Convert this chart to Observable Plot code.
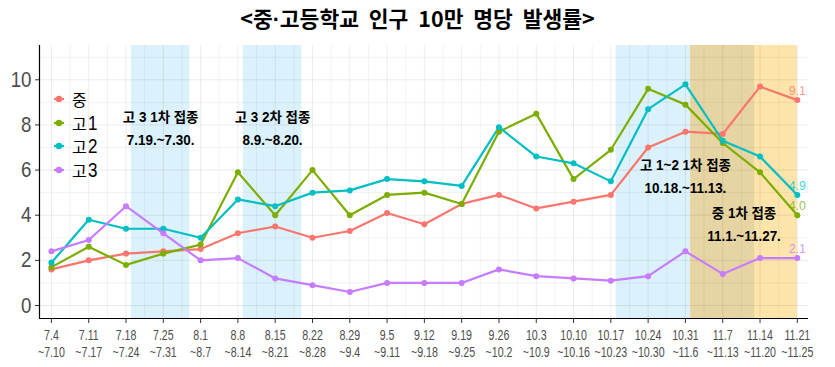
<!DOCTYPE html>
<html><head><meta charset="utf-8">
<script src="https://cdn.jsdelivr.net/npm/d3@7"></script>
<script src="https://cdn.jsdelivr.net/npm/@observablehq/plot@0.6"></script>
<style>
body{margin:0;background:#fff;}
#wrap{position:relative;width:835px;height:367px;overflow:hidden;}
#title{height:40px;line-height:36px;text-align:center;font-weight:bold;font-size:21.5px;font-family:"Noto Sans CJK KR",sans-serif;color:#000;word-spacing:5px;}
#title .dot{font-family:"Liberation Sans",sans-serif;}
#legend{position:absolute;left:52px;top:87px;color:#000;}
#legend .row{height:23.7px;display:flex;align-items:center;}
#legend .k{font-family:"Noto Sans CJK KR",sans-serif;font-size:16px;line-height:16px;}
#legend .d{font-family:"Liberation Sans",sans-serif;font-size:20px;line-height:20px;display:inline-block;transform:scaleX(0.85);transform-origin:left center;margin-left:1px;}
#legend svg{margin-right:6px;}
</style></head>
<body><div id="wrap"><div id="title">&lt;중<span class="dot">·</span>고등학교 인구 10만 명당 발생률&gt;</div><div id="chart"></div><div id="legend"></div></div>
<script>
// week labels (x categories)
const weekStarts = ["2021-07-04","2021-07-11","2021-07-18","2021-07-25","2021-08-01","2021-08-08","2021-08-15","2021-08-22","2021-08-29","2021-09-05","2021-09-12","2021-09-19","2021-09-26","2021-10-03","2021-10-10","2021-10-17","2021-10-24","2021-10-31","2021-11-07","2021-11-14","2021-11-21"];
const weekLabels = ["7.4\n~7.10","7.11\n~7.17","7.18\n~7.24","7.25\n~7.31","8.1\n~8.7","8.8\n~8.14","8.15\n~8.21","8.22\n~8.28","8.29\n~9.4","9.5\n~9.11","9.12\n~9.18","9.19\n~9.25","9.26\n~10.2","10.3\n~10.9","10.10\n~10.16","10.17\n~10.23","10.24\n~10.30","10.31\n~11.6","11.7\n~11.13","11.14\n~11.20","11.21\n~11.25"];
// series
const seriesNames = ["중","고1","고2","고3"];
const seriesColors = ["#F8766D","#7CAE00","#00BFC4","#C77CFF"];
const midSchool = [1.6,2.0,2.3,2.4,2.5,3.2,3.5,3.0,3.3,4.1,3.6,4.5,4.9,4.3,4.6,4.9,7.0,7.7,7.6,9.7,9.1];
const high1 = [1.7,2.6,1.8,2.3,2.7,5.9,4.0,6.0,4.0,4.9,5.0,4.5,7.7,8.5,5.6,6.9,9.6,8.9,7.2,5.9,4.0];
const high2 = [1.9,3.8,3.4,3.4,3.0,4.7,4.4,5.0,5.1,5.6,5.5,5.3,7.9,6.6,6.3,5.5,8.7,9.8,7.3,6.6,4.9];
const high3 = [2.4,2.9,4.4,3.2,2.0,2.1,1.2,0.9,0.6,1.0,1.0,1.0,1.6,1.3,1.2,1.1,1.3,2.4,1.4,2.1,2.1];
// vaccination periods
const bandStart = ["2021-07-19","2021-08-09","2021-10-18","2021-11-01"];
const bandEnd   = ["2021-07-30","2021-08-20","2021-11-13","2021-11-27"];
const bandKind  = ["blue","blue","blue","orange"];
const bandText  = ["고 3 1차 접종\n7.19.~7.30.","고 3 2차 접종\n8.9.~8.20.","고 1~2 1차 접종\n10.18.~11.13.","중 1차 접종\n11.1.~11.27."];
const bandTextY = [7.95,7.95,5.8,3.7];
// y ticks
const yTicks = [0,2,4,6,8,10];

const values = [midSchool, high1, high2, high3];
const data = [];
values.forEach((arr, s) => arr.forEach((v, i) => data.push({i, v, s: seriesNames[s]})));
const n = weekStarts.length;
const day = 864e5;
const starts = weekStarts.map(d => new Date(d));
function dateToX(str) {
  const d = new Date(str);
  let k = 0;
  for (let j = 0; j < n; j++) if (starts[j] <= d) k = j;
  return Math.min(n - 1, k + (d - starts[k]) / day / 7);
}
const bands = bandStart.map((s, j) => ({x1: dateToX(s), x2: dateToX(bandEnd[j]), kind: bandKind[j], text: bandText[j], ty: bandTextY[j]}));
const blues = bands.filter(b => b.kind === "blue"), oranges = bands.filter(b => b.kind === "orange");
const overlaps = [];
blues.forEach(b => oranges.forEach(o => { const a = Math.max(b.x1, o.x1), c = Math.min(b.x2, o.x2); if (c > a) overlaps.push({x1: a, x2: c}); }));

const xDomain = [-0.32, n - 1 + 0.3];
const yDomain = [-0.576, 11.52];
const last = data.filter(d => d.i === n - 1);

const chart = Plot.plot({
  width: 835, height: 327,
  marginTop: 5, marginBottom: 49, marginLeft: 39, marginRight: 27,
  x: {type: "linear", domain: xDomain},
  y: {domain: yDomain},
  color: {domain: seriesNames, range: seriesColors},
  style: {fontFamily: '"Liberation Sans","Noto Sans CJK KR",sans-serif', background: "#fff"},
  marks: [
    Plot.rectX(bands, {x1: "x1", x2: "x2", y1: yDomain[0], y2: yDomain[1], fill: d => d.kind === "blue" ? "#dbf1fb" : "#fde4aa"}),
    Plot.rectX(overlaps, {x1: "x1", x2: "x2", y1: yDomain[0], y2: yDomain[1], fill: "#e6d5a2"}),
    Plot.gridY(d3.range(0, 12, 2), {stroke: "#000", strokeOpacity: 0.075}),
    Plot.gridY(d3.range(1, 12, 2), {stroke: "#000", strokeOpacity: 0.05}),
    Plot.gridX(d3.range(0, n), {stroke: "#000", strokeOpacity: 0.075}),
    Plot.gridX(d3.range(0.5, n - 1, 1), {stroke: "#000", strokeOpacity: 0.05}),
    Plot.line(data, {x: "i", y: "v", stroke: "s", z: "s", strokeWidth: 2.2}),
    Plot.dot(data, {x: "i", y: "v", fill: "s", r: 3}),
    Plot.text(last, {x: "i", y: "v", text: d => d.v.toFixed(1), fill: "s", fillOpacity: 0.75, dy: -9, fontSize: 13}),
    Plot.text(bands, {x: d => (d.x1 + d.x2) / 2, y: "ty", text: "text", fontSize: 14, fontWeight: "bold", fill: "#000", lineHeight: 1.64}),
    Plot.axisY({ticks: yTicks, tickSize: 4, tickPadding: 4, fontSize: 22, color: "#4d4d4d", stroke: "#333"}),
    Plot.axisX({ticks: d3.range(0, n), tickFormat: i => weekLabels[i], tickSize: 5, tickPadding: 5, fontSize: 14, lineHeight: 1.2, color: "#4d4d4d", stroke: "#333", label: null}),
    Plot.ruleX([xDomain[0]], {stroke: "#000", strokeWidth: 1.2}),
    Plot.ruleY([yDomain[0]], {stroke: "#000", strokeWidth: 1.2})
  ]
});
document.getElementById("chart").appendChild(chart);

// condense text horizontally about its anchor point, like the reference's narrow font
function condense(selector, factor) {
  chart.querySelectorAll(selector).forEach(t => {
    const tr = t.getAttribute("transform") || "";
    const x = parseFloat(t.getAttribute("x")) || 0;
    t.setAttribute("transform", `${tr} translate(${x},0) scale(${factor},1) translate(${-x},0)`);
  });
}
condense('g[aria-label="x-axis tick label"] text', 0.76);
condense('g[aria-label="y-axis tick label"] text', 0.85);
condense('g[aria-label="text"] text', 0.96);

const legend = document.getElementById("legend");
seriesNames.forEach((s, k) => {
  const row = document.createElement("div");
  row.className = "row";
  const kor = s.replace(/[0-9]/g, ""), dig = s.replace(/[^0-9]/g, "");
  row.innerHTML = `<svg width="14" height="12"><line x1="2" x2="12" y1="6" y2="6" stroke="${seriesColors[k]}" stroke-width="2.2"/><circle cx="7" cy="6" r="3.2" fill="${seriesColors[k]}"/></svg><span class="k">${kor}</span>` + (dig ? `<span class="d">${dig}</span>` : "");
  legend.appendChild(row);
});
</script></body></html>
